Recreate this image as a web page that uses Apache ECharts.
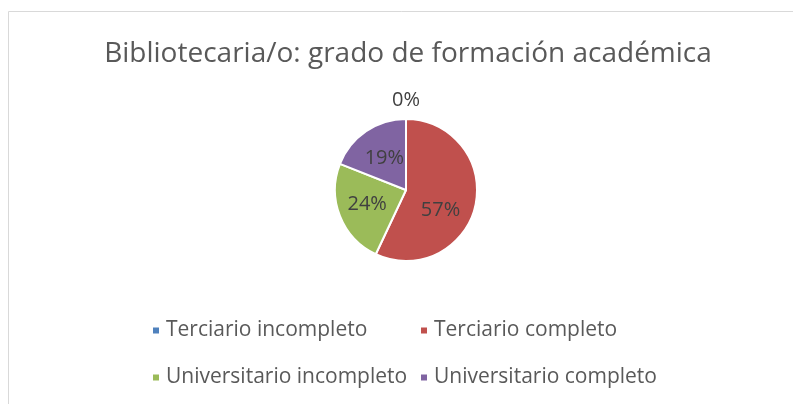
<!DOCTYPE html>
<html>
<head>
<meta charset="utf-8">
<script src="https://cdn.jsdelivr.net/npm/echarts@6/dist/echarts.min.js"></script>
<style>
  html, body { margin: 0; padding: 0; background: #fff; }
  #chart { width: 793px; height: 404px; }
</style>
</head>
<body>
<div id="chart"></div>
<script>
var titleText = "Bibliotecaria/o: grado de formación académica";
var categories = ["Terciario incompleto", "Terciario completo", "Universitario incompleto", "Universitario completo"];
var values = [0, 57, 24, 19];
var colors = ["#4F81BD", "#C0504D", "#9BBB59", "#8064A2"];

var fontFamily = "'Open Sans', sans-serif";
var myChart = echarts.init(document.getElementById("chart"));

var data = [];
for (var i = 0; i < categories.length; i++) {
  data.push({ name: categories[i], value: values[i], itemStyle: { color: colors[i] } });
}

// nudges so the labels sit where Excel put them
var labelNudge = [[0, -51], [-3, 12], [-3, 0], [0, 0]];

var legendStyle = {
  orient: "vertical",
  top: 315,
  itemWidth: 8,
  itemHeight: 8,
  itemGap: 26,
  icon: "rect",
  textStyle: { color: "#595959", fontSize: 21, fontFamily: fontFamily, padding: [0, 0, 0, 1] }
};

var option = {
  animation: false,
  title: {
    text: titleText,
    left: 403,
    textAlign: "center",
    top: 35,
    textStyle: { color: "#595959", fontSize: 28, fontWeight: "normal", fontFamily: fontFamily }
  },
  legend: [
    Object.assign({ left: 146, data: [categories[0], categories[2]] }, legendStyle),
    Object.assign({ left: 414, data: [categories[1], categories[3]] }, legendStyle)
  ],
  graphic: [{
    type: "rect",
    shape: { x: 8.5, y: 11.5, width: 800, height: 400 },
    style: { fill: "none", stroke: "#d9d9d9", lineWidth: 1 },
    silent: true
  }],
  series: [{
    type: "pie",
    center: [406, 190],
    radius: 71,
    startAngle: 90,
    clockwise: true,
    data: data,
    itemStyle: { borderColor: "#fff", borderWidth: 2 },
    label: {
      show: true,
      position: "inside",
      formatter: "{d}%",
      color: "#404040",
      fontSize: 20,
      fontFamily: fontFamily
    },
    labelLine: { show: false },
    labelLayout: function (params) {
      var n = labelNudge[params.dataIndex];
      return { dx: n[0], dy: n[1] };
    },
    emphasis: { disabled: true }
  }]
};

myChart.setOption(option);
window.addEventListener("resize", function () {
  myChart.resize();
});
</script>
</body>
</html>
